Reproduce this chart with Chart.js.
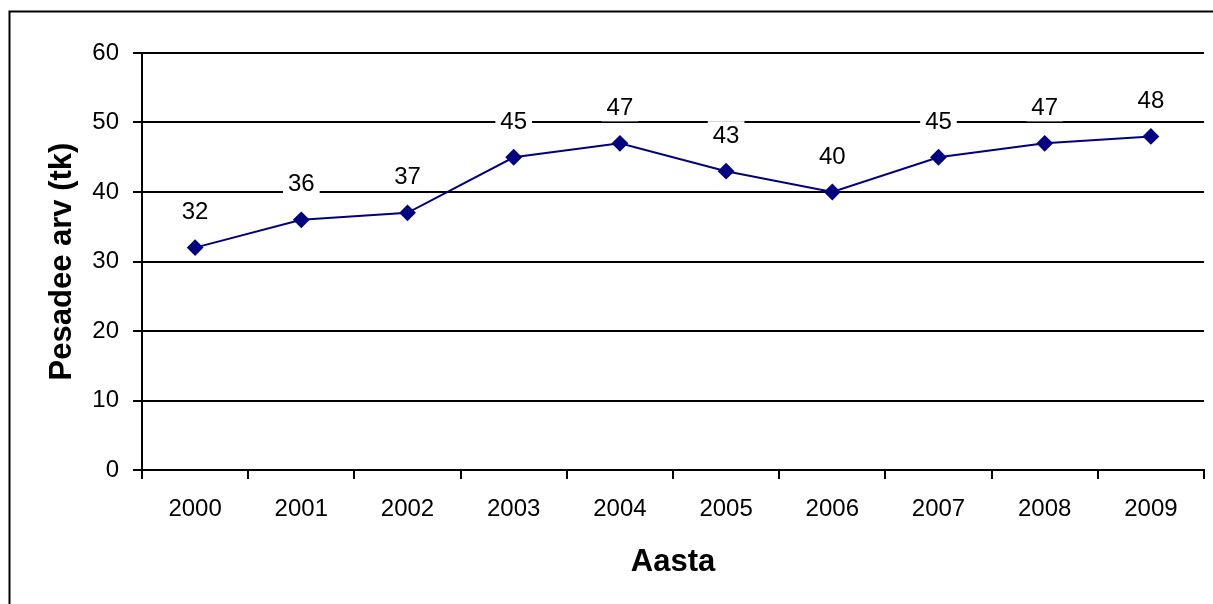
<!DOCTYPE html>
<html>
<head>
<meta charset="utf-8">
<script src="https://cdn.jsdelivr.net/npm/chart.js@4"></script>
<style>
  html, body { margin: 0; padding: 0; background: #fff; overflow: hidden; }
  #wrap { width: 1213px; height: 604px; position: relative; }
</style>
</head>
<body>
<div id="wrap"><canvas id="chart"></canvas></div>
<script>
const years = ['2000', '2001', '2002', '2003', '2004', '2005', '2006', '2007', '2008', '2009'];
const nests = [32, 36, 37, 45, 47, 43, 40, 45, 47, 48];
const yTitle = 'Pesadee arv (tk)';
const xTitle = 'Aasta';

const FONT = 'Liberation Sans, Arial, sans-serif';

// outer frame, only top and left edges fall inside the picture
const framePlugin = {
    id: 'frame',
    beforeDraw(chart) {
        const ctx = chart.ctx;
        ctx.save();
        ctx.fillStyle = '#fff';
        ctx.fillRect(0, 0, chart.width, chart.height);
        ctx.strokeStyle = '#000';
        ctx.lineWidth = 2;
        ctx.strokeRect(9.5, 11.5, chart.width + 40, chart.height + 40);
        ctx.restore();
    }
};

// value labels on white boxes above each point
const valueLabels = {
    id: 'valueLabels',
    afterDatasetsDraw(chart) {
        const ctx = chart.ctx;
        const meta = chart.getDatasetMeta(0);
        ctx.save();
        ctx.font = '24px ' + FONT;
        ctx.textAlign = 'center';
        ctx.textBaseline = 'middle';
        meta.data.forEach((pt, i) => {
            const txt = String(nests[i]);
            const w = ctx.measureText(txt).width + 10;
            const y = pt.y - 36;
            ctx.fillStyle = '#fff';
            ctx.fillRect(pt.x - w / 2, y - 14, w, 28);
            ctx.fillStyle = '#000';
            ctx.fillText(txt, pt.x, y + 1);
        });
        ctx.restore();
    }
};

new Chart(document.getElementById('chart'), {
    type: 'line',
    data: {
        labels: years,
        datasets: [{
            data: nests,
            borderColor: '#000080',
            backgroundColor: '#000080',
            borderWidth: 2,
            pointStyle: 'rectRot',
            pointRadius: 7,
            pointHoverRadius: 7,
            tension: 0
        }]
    },
    options: {
        responsive: true,
        maintainAspectRatio: false,
        animation: false,
        layout: {
            padding: { top: 53, right: 3, bottom: 10, left: 20 }
        },
        plugins: {
            legend: { display: false },
            tooltip: { enabled: false }
        },
        scales: {
            x: {
                offset: true,
                grid: {
                    offset: true,
                    drawOnChartArea: false,
                    color: '#000',
                    lineWidth: 2,
                    tickLength: 9
                },
                border: { color: '#000', width: 2 },
                ticks: {
                    color: '#000',
                    padding: 16,
                    font: { family: FONT, size: 24 },
                    maxRotation: 0
                },
                title: {
                    display: true,
                    text: xTitle,
                    color: '#000',
                    font: { family: FONT, size: 31, weight: 'bold' },
                    padding: { top: 0, bottom: 13 }
                },
                afterFit(scale) {
                    scale.height = 124;
                }
            },
            y: {
                min: 0,
                max: 60,
                ticks: {
                    stepSize: 10,
                    color: '#000',
                    padding: 14,
                    font: { family: FONT, size: 24 }
                },
                grid: {
                    color: '#000',
                    lineWidth: 2,
                    tickLength: 9
                },
                border: { color: '#000', width: 2 },
                title: {
                    display: true,
                    text: yTitle,
                    color: '#000',
                    font: { family: FONT, size: 31, weight: 'bold' },
                    padding: { top: 24, bottom: 0 }
                },
                afterFit(scale) {
                    scale.width = 122;
                }
            }
        }
    },
    plugins: [framePlugin, valueLabels]
});
</script>
</body>
</html>
